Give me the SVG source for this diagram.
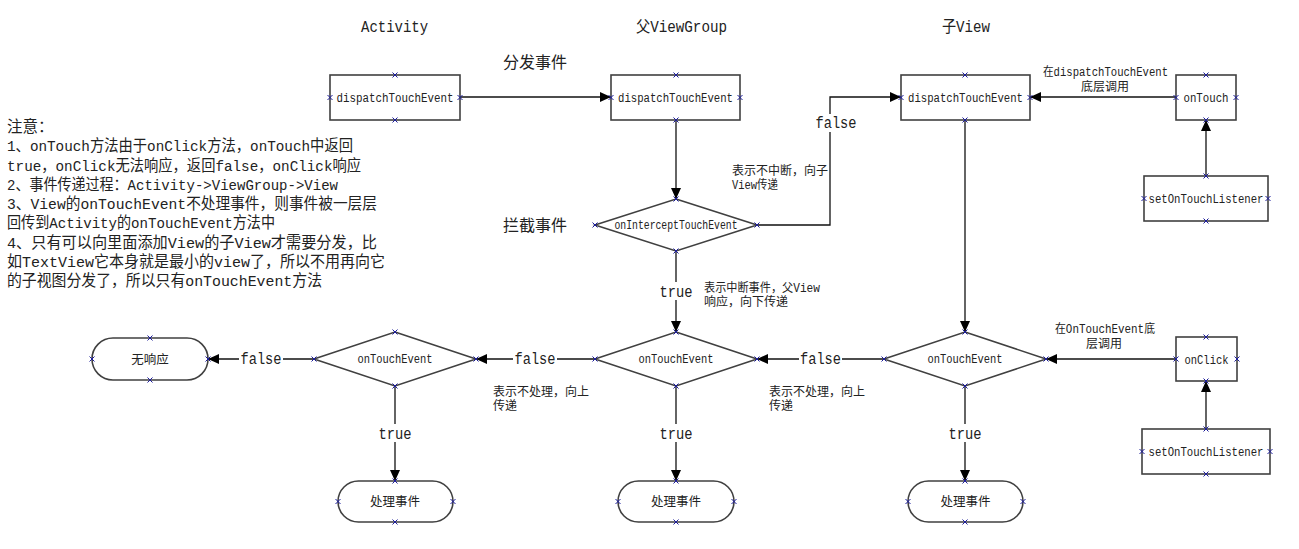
<svg xmlns="http://www.w3.org/2000/svg" width="1299" height="549" viewBox="0 0 1299 549">
<defs>
<style>
.shape{fill:#fff;stroke:#404040;stroke-width:1.6}
.conn{fill:none;stroke:#111;stroke-width:1.3}
.pt{stroke:#1c1c9c;stroke-width:1;fill:none}
text{font-family:"Liberation Mono","Noto Sans CJK SC",monospace;fill:#222}
.node{font-size:12.5px;text-anchor:middle}
.title{font-size:16px}
.lbl{font-size:16px;text-anchor:middle}
.ann{font-size:12px}
.note{font-size:15.5px}
.bg{fill:#fff;stroke:none}
</style>
<marker id="ah" viewBox="0 0 11 10" refX="11" refY="5" markerWidth="11" markerHeight="10" markerUnits="userSpaceOnUse" orient="auto">
<path d="M0,0L11,5L0,10z" fill="#000"/>
</marker>
<path id="xm" d="M-2.5-2.5l5 5m0-5l-5 5"/>
</defs>
<rect width="1299" height="549" fill="#fff"/>

<!-- column headings and stage names -->
<g id="headings">
<text class="title" x="361" y="32" textLength="67" lengthAdjust="spacingAndGlyphs">Activity</text>
<text class="title" x="636" y="32" textLength="91" lengthAdjust="spacingAndGlyphs">父ViewGroup</text>
<text class="title" x="942" y="32" textLength="48" lengthAdjust="spacingAndGlyphs">子View</text>
<text class="title" x="503" y="68">分发事件</text>
<text class="title" x="503" y="231">拦截事件</text>
</g>

<!-- notes block -->
<g id="notes" class="note">
<text x="7" y="132">注意：</text>
<text x="7" y="151.3" textLength="346" lengthAdjust="spacingAndGlyphs">1、onTouch方法由于onClick方法，onTouch中返回</text>
<text x="7" y="170.5" textLength="354" lengthAdjust="spacingAndGlyphs">true，onClick无法响应，返回false，onClick响应</text>
<text x="7" y="189.8" textLength="331" lengthAdjust="spacingAndGlyphs">2、事件传递过程：Activity-&gt;ViewGroup-&gt;View</text>
<text x="7" y="209" textLength="370" lengthAdjust="spacingAndGlyphs">3、View的onTouchEvent不处理事件，则事件被一层层</text>
<text x="7" y="228.3" textLength="268" lengthAdjust="spacingAndGlyphs">回传到Activity的onTouchEvent方法中</text>
<text x="7" y="247.5" textLength="370" lengthAdjust="spacingAndGlyphs">4、只有可以向里面添加View的子View才需要分发，比</text>
<text x="7" y="266.8" textLength="378" lengthAdjust="spacingAndGlyphs">如TextView它本身就是最小的view了，所以不用再向它</text>
<text x="7" y="286" textLength="315" lengthAdjust="spacingAndGlyphs">的子视图分发了，所以只有onTouchEvent方法</text>
</g>

<!-- connectors -->
<g id="connectors" class="conn">
<path d="M460,97H611" marker-end="url(#ah)"/>
<path d="M676,120V199" marker-end="url(#ah)"/>
<path d="M757,225H830V97H901" marker-end="url(#ah)"/>
<path d="M676,251V332" marker-end="url(#ah)"/>
<path d="M965,120V332" marker-end="url(#ah)"/>
<path d="M1176,97H1030" marker-end="url(#ah)"/>
<path d="M1206,176V120" marker-end="url(#ah)"/>
<path d="M1206,429V381" marker-end="url(#ah)"/>
<path d="M1176,359H1046" marker-end="url(#ah)"/>
<path d="M884,359H757" marker-end="url(#ah)"/>
<path d="M595,359H476" marker-end="url(#ah)"/>
<path d="M314,359H208" marker-end="url(#ah)"/>
<path d="M395,386V481" marker-end="url(#ah)"/>
<path d="M676,386V481" marker-end="url(#ah)"/>
<path d="M965,386V481" marker-end="url(#ah)"/>
</g>

<!-- connector labels -->
<g id="connector-labels">
<rect class="bg" x="815" y="114" width="43" height="18"/>
<text class="lbl" x="836" y="128" textLength="41" lengthAdjust="spacingAndGlyphs">false</text>
<rect class="bg" x="658" y="282" width="36" height="18"/>
<text class="lbl" x="676" y="297" textLength="33" lengthAdjust="spacingAndGlyphs">true</text>
<rect class="bg" x="799" y="350" width="43" height="18"/>
<text class="lbl" x="820.5" y="364" textLength="41" lengthAdjust="spacingAndGlyphs">false</text>
<rect class="bg" x="513" y="350" width="44" height="18"/>
<text class="lbl" x="535" y="364" textLength="41" lengthAdjust="spacingAndGlyphs">false</text>
<rect class="bg" x="239" y="350" width="44" height="18"/>
<text class="lbl" x="261" y="364" textLength="41" lengthAdjust="spacingAndGlyphs">false</text>
<rect class="bg" x="377" y="424" width="36" height="18"/>
<text class="lbl" x="395" y="439" textLength="33" lengthAdjust="spacingAndGlyphs">true</text>
<rect class="bg" x="658" y="424" width="36" height="18"/>
<text class="lbl" x="676" y="439" textLength="33" lengthAdjust="spacingAndGlyphs">true</text>
<rect class="bg" x="947" y="424" width="36" height="18"/>
<text class="lbl" x="965" y="439" textLength="33" lengthAdjust="spacingAndGlyphs">true</text>
</g>

<!-- annotations -->
<g id="annotations" class="ann">
<text x="732" y="175">表示不中断，向子</text>
<text x="732" y="189" textLength="46" lengthAdjust="spacingAndGlyphs">View传递</text>
<text x="704" y="292" textLength="116" lengthAdjust="spacingAndGlyphs">表示中断事件，父View</text>
<text x="704" y="306">响应，向下传递</text>
<text x="493" y="396">表示不处理，向上</text>
<text x="493" y="410">传递</text>
<text x="769" y="396">表示不处理，向上</text>
<text x="769" y="410">传递</text>
<text x="1043" y="76" textLength="125" lengthAdjust="spacingAndGlyphs">在dispatchTouchEvent</text>
<text x="1081" y="91">底层调用</text>
<text x="1055" y="333" textLength="100" lengthAdjust="spacingAndGlyphs">在OnTouchEvent底</text>
<text x="1086" y="348">层调用</text>
</g>

<!-- Activity column -->
<g id="activity-dispatch">
<rect class="shape" x="330" y="75" width="130" height="45"/>
<text class="node" x="395" y="101.5" textLength="117" lengthAdjust="spacingAndGlyphs">dispatchTouchEvent</text>
<g class="pt"><use href="#xm" x="395" y="75"/><use href="#xm" x="395" y="120"/><use href="#xm" x="330" y="97.5"/><use href="#xm" x="460" y="97.5"/></g>
</g>
<g id="activity-ontouchevent">
<path class="shape" d="M395,332L476,359L395,386L314,359Z"/>
<text class="node" x="395" y="363" textLength="75" lengthAdjust="spacingAndGlyphs">onTouchEvent</text>
<g class="pt"><use href="#xm" x="395" y="332"/><use href="#xm" x="395" y="386"/><use href="#xm" x="314" y="359"/><use href="#xm" x="476" y="359"/></g>
</g>
<g id="no-response">
<rect class="shape" x="92" y="338" width="116" height="42" rx="21"/>
<text class="node" x="150" y="363.5">无响应</text>
<g class="pt"><use href="#xm" x="150" y="338"/><use href="#xm" x="150" y="380"/><use href="#xm" x="92" y="359"/><use href="#xm" x="208" y="359"/></g>
</g>
<g id="activity-handle">
<rect class="shape" x="338" y="481" width="115" height="41" rx="20.5"/>
<text class="node" x="395" y="506">处理事件</text>
<g class="pt"><use href="#xm" x="395" y="481"/><use href="#xm" x="395" y="522"/><use href="#xm" x="338" y="501.5"/><use href="#xm" x="453" y="501.5"/></g>
</g>

<!-- ViewGroup column -->
<g id="viewgroup-dispatch">
<rect class="shape" x="611" y="75" width="129" height="45"/>
<text class="node" x="675.5" y="101.5" textLength="115" lengthAdjust="spacingAndGlyphs">dispatchTouchEvent</text>
<g class="pt"><use href="#xm" x="676" y="75"/><use href="#xm" x="676" y="120"/><use href="#xm" x="611" y="97.5"/><use href="#xm" x="740" y="97.5"/></g>
</g>
<g id="viewgroup-intercept">
<path class="shape" d="M676,199L757,225L676,251L595,225Z"/>
<text class="node" x="676" y="229" style="font-size:12px" textLength="123" lengthAdjust="spacingAndGlyphs">onInterceptTouchEvent</text>
<g class="pt"><use href="#xm" x="676" y="199"/><use href="#xm" x="676" y="251"/><use href="#xm" x="595" y="225"/><use href="#xm" x="757" y="225"/></g>
</g>
<g id="viewgroup-ontouchevent">
<path class="shape" d="M676,332L757,359L676,386L595,359Z"/>
<text class="node" x="676" y="363" textLength="75" lengthAdjust="spacingAndGlyphs">onTouchEvent</text>
<g class="pt"><use href="#xm" x="676" y="332"/><use href="#xm" x="676" y="386"/><use href="#xm" x="595" y="359"/><use href="#xm" x="757" y="359"/></g>
</g>
<g id="viewgroup-handle">
<rect class="shape" x="618" y="481" width="116" height="41" rx="20.5"/>
<text class="node" x="676" y="506">处理事件</text>
<g class="pt"><use href="#xm" x="676" y="481"/><use href="#xm" x="676" y="522"/><use href="#xm" x="618" y="501.5"/><use href="#xm" x="734" y="501.5"/></g>
</g>

<!-- child View column -->
<g id="view-dispatch">
<rect class="shape" x="901" y="75" width="129" height="45"/>
<text class="node" x="965.5" y="101.5" textLength="115" lengthAdjust="spacingAndGlyphs">dispatchTouchEvent</text>
<g class="pt"><use href="#xm" x="965" y="75"/><use href="#xm" x="965" y="120"/><use href="#xm" x="901" y="97.5"/><use href="#xm" x="1030" y="97.5"/></g>
</g>
<g id="view-ontouchevent">
<path class="shape" d="M965,332L1046,359L965,386L884,359Z"/>
<text class="node" x="965" y="363" textLength="75" lengthAdjust="spacingAndGlyphs">onTouchEvent</text>
<g class="pt"><use href="#xm" x="965" y="332"/><use href="#xm" x="965" y="386"/><use href="#xm" x="884" y="359"/><use href="#xm" x="1046" y="359"/></g>
</g>
<g id="view-handle">
<rect class="shape" x="908" y="481" width="115" height="41" rx="20.5"/>
<text class="node" x="965.5" y="506">处理事件</text>
<g class="pt"><use href="#xm" x="965" y="481"/><use href="#xm" x="965" y="522"/><use href="#xm" x="908" y="501.5"/><use href="#xm" x="1023" y="501.5"/></g>
</g>

<!-- listeners -->
<g id="ontouch">
<rect class="shape" x="1176" y="75" width="60" height="45"/>
<text class="node" x="1206" y="101.5" textLength="45" lengthAdjust="spacingAndGlyphs">onTouch</text>
<g class="pt"><use href="#xm" x="1206" y="75"/><use href="#xm" x="1206" y="120"/><use href="#xm" x="1176" y="97.5"/><use href="#xm" x="1236" y="97.5"/></g>
</g>
<g id="set-ontouch-listener">
<rect class="shape" x="1144" y="176" width="124" height="45"/>
<text class="node" x="1206" y="202.5" textLength="115" lengthAdjust="spacingAndGlyphs">setOnTouchListener</text>
<g class="pt"><use href="#xm" x="1206" y="176"/><use href="#xm" x="1206" y="221"/><use href="#xm" x="1144" y="198.5"/><use href="#xm" x="1268" y="198.5"/></g>
</g>
<g id="onclick">
<rect class="shape" x="1176" y="337" width="61" height="44"/>
<text class="node" x="1206.5" y="363.5" textLength="44" lengthAdjust="spacingAndGlyphs">onClick</text>
<g class="pt"><use href="#xm" x="1206" y="337"/><use href="#xm" x="1206" y="381"/><use href="#xm" x="1176" y="359"/><use href="#xm" x="1237" y="359"/></g>
</g>
<g id="set-onclick-listener">
<rect class="shape" x="1142" y="429" width="128" height="45"/>
<text class="node" x="1206" y="455.5" textLength="115" lengthAdjust="spacingAndGlyphs">setOnTouchListener</text>
<g class="pt"><use href="#xm" x="1206" y="429"/><use href="#xm" x="1206" y="474"/><use href="#xm" x="1142" y="451.5"/><use href="#xm" x="1270" y="451.5"/></g>
</g>
</svg>
